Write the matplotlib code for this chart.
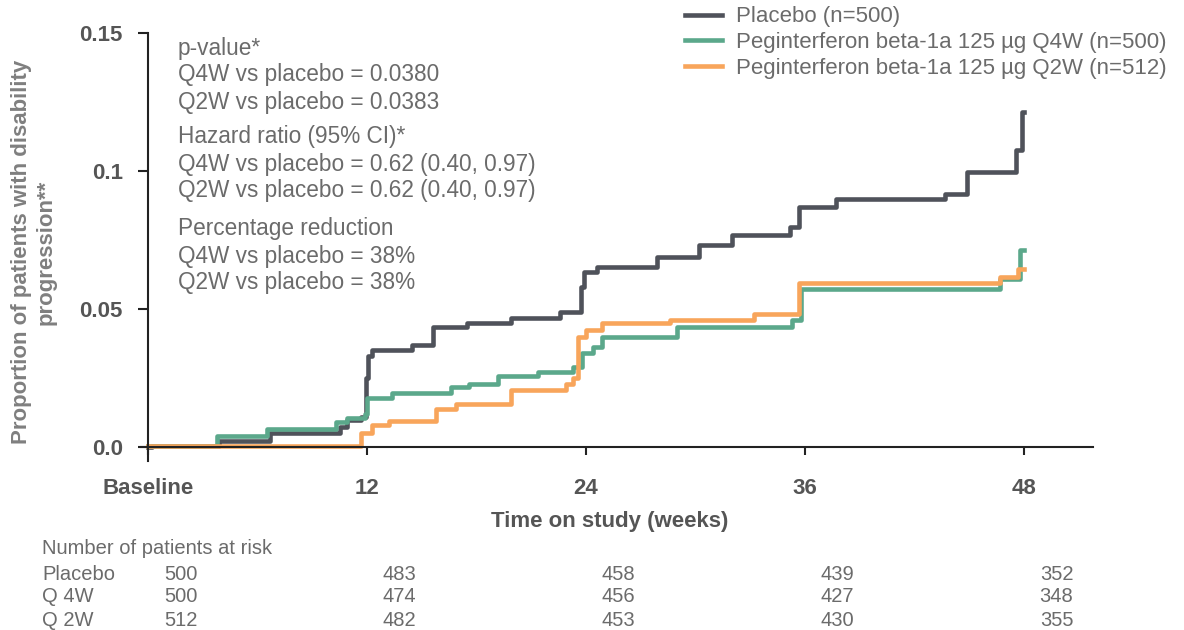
import matplotlib
matplotlib.use("Agg")
import matplotlib.pyplot as plt
from matplotlib.transforms import blended_transform_factory

plt.rcParams['font.family'] = ['Liberation Sans', 'DejaVu Sans']

# step curves (weeks, cumulative proportion)
placebo_wk = [0, 0.2, 3.9, 6.7, 10.5, 10.9, 11.7, 11.95, 12.05, 12.3, 14.5, 15.6,
              17.5, 19.9, 22.6, 23.75, 23.9, 24.6, 27.9, 30.2, 32.0, 35.2, 35.7,
              37.7, 43.7, 44.9, 47.6, 47.9, 48.0]
placebo_p = [0.0, 0.0005, 0.002, 0.0052, 0.0074, 0.0098, 0.011, 0.025, 0.033, 0.0351,
             0.0369, 0.0435, 0.045, 0.0467, 0.049, 0.058, 0.0634, 0.0653, 0.0689,
             0.0731, 0.0767, 0.0797, 0.087, 0.0897, 0.0915, 0.0997, 0.1075, 0.1214, 0.1214]

q4w_wk = [0, 3.8, 6.5, 10.3, 10.9, 11.9, 12.0, 13.4, 16.6, 17.6, 19.2, 21.4, 23.3,
          23.8, 24.4, 24.9, 29.0, 35.3, 35.8, 46.7, 47.8, 48.0]
q4w_p = [0.0005, 0.0041, 0.0065, 0.0092, 0.0105, 0.012, 0.0176, 0.0194, 0.0218,
         0.023, 0.0257, 0.0273, 0.029, 0.034, 0.0363, 0.040, 0.0436, 0.046, 0.0574,
         0.061, 0.0713, 0.0713]

q2w_wk = [0, 11.7, 12.3, 13.2, 15.8, 16.9, 19.9, 22.9, 23.3, 23.6, 24.0, 24.9, 28.6,
          33.2, 35.7, 46.7, 47.7, 48.0]
q2w_p = [0.0003, 0.005, 0.008, 0.0094, 0.0136, 0.0156, 0.0206, 0.023, 0.0249, 0.040,
         0.0424, 0.0449, 0.046, 0.0482, 0.0593, 0.0617, 0.0645, 0.0645]

labels = ["Placebo (n=500)",
          "Peginterferon beta-1a 125 \u00b5g Q4W (n=500)",
          "Peginterferon beta-1a 125 \u00b5g Q2W (n=512)"]
colors = ["#4f525a", "#5ba88b", "#f8a55b"]

x_ticks = [0, 12, 24, 36, 48]
x_ticklabels = ["Baseline", "12", "24", "36", "48"]
y_ticks = [0.0, 0.05, 0.1, 0.15]
y_ticklabels = ["0.0", "0.05", "0.1", "0.15"]

risk_groups = ["Placebo", "Q 4W", "Q 2W"]
risk_counts = [[500, 483, 458, 439, 352],
               [500, 474, 456, 427, 348],
               [512, 482, 453, 430, 355]]

stats_lines = [
    ["p-value*", "Q4W vs placebo = 0.0380", "Q2W vs placebo = 0.0383"],
    ["Hazard ratio (95% CI)*", "Q4W vs placebo = 0.62 (0.40, 0.97)",
     "Q2W vs placebo = 0.62 (0.40, 0.97)"],
    ["Percentage reduction", "Q4W vs placebo = 38%", "Q2W vs placebo = 38%"],
]

tick_col = "#555555"
text_col = "#6b6b6b"

fig = plt.figure(figsize=(11.84, 6.3), dpi=100)
ax = fig.add_axes([0.1188, 0.2686, 0.8043, 0.679])

series = [(placebo_wk, placebo_p), (q4w_wk, q4w_p), (q2w_wk, q2w_p)]
for (wk, p), lab, col in zip(series, labels, colors):
    ax.step(wk, p, where='post', color=col, lw=3.3, label=lab)

ax.set_xlim(-0.4, 51.8)
ax.set_ylim(-0.005, 0.15)
ax.spines['top'].set_visible(False)
ax.spines['right'].set_visible(False)
ax.spines['bottom'].set_position(('data', 0))
ax.spines['left'].set_position(('data', 0))
for s in ['bottom', 'left']:
    ax.spines[s].set_linewidth(1.5)
    ax.spines[s].set_color('#222222')

ax.set_xticks(x_ticks)
ax.set_xticklabels(x_ticklabels)
ax.set_yticks(y_ticks)
ax.set_yticklabels(y_ticklabels)
ax.tick_params(axis='x', length=6, width=1.5, pad=16, labelsize=16, colors='#222222',
               labelcolor=tick_col)
ax.tick_params(axis='y', length=7, width=1.5, pad=11, labelsize=16, colors='#222222',
               labelcolor=tick_col)
for t in ax.get_xticklabels() + ax.get_yticklabels():
    t.set_fontweight('bold')

# stats annotation block
line_px = [[48, 75, 102], [137, 164, 191], [228, 256, 283]]
for block, ys in zip(stats_lines, line_px):
    for txt, ypx in zip(block, ys):
        fig.text(178 / 1184, 1 - ypx / 630, txt, fontsize=16.3, color=text_col,
                 ha='left', va='center')

fig.legend(loc='upper left', bbox_to_anchor=(0.5785, 0.99), frameon=False,
           fontsize=16, labelcolor=text_col, handlelength=1.67, handletextpad=0.65,
           labelspacing=0.22, borderpad=0, borderaxespad=0)

fig.text(34 / 1184, 1 - 252 / 630,
         "Proportion of patients with disability\nprogression**",
         rotation=90, ha='center', va='center', fontsize=16, fontweight='bold',
         color='#7f7f7f', multialignment='center', linespacing=1.2)
fig.text(610 / 1184, 1 - 522 / 630, "Time on study (weeks)", ha='center', va='center',
         fontsize=16, fontweight='bold', color=tick_col)

# number at risk table
fig.text(42 / 1184, 1 - 549 / 630, "Number of patients at risk", fontsize=14.5,
         color=text_col, ha='left', va='center')
trans = blended_transform_factory(ax.transData, fig.transFigure)
row_px = [574, 597, 620]
for grp, counts, ypx in zip(risk_groups, risk_counts, row_px):
    fig.text(42 / 1184, 1 - ypx / 630, grp, fontsize=14.5, color=text_col,
             ha='left', va='center')
    for wk, n in zip(x_ticks, counts):
        ax.text(wk + 1.8, 1 - ypx / 630, str(n), transform=trans, fontsize=14.5,
                color=text_col, ha='center', va='center', clip_on=False)

fig.savefig("out.png", dpi=100)
